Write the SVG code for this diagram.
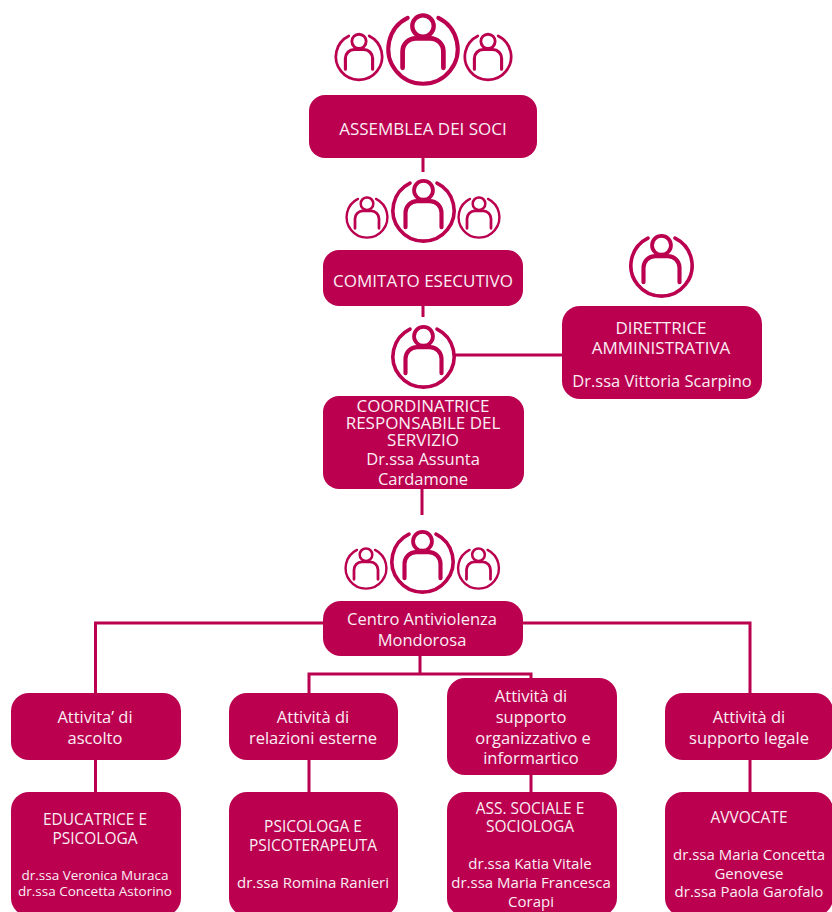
<svg xmlns="http://www.w3.org/2000/svg" xmlns:xlink="http://www.w3.org/1999/xlink" width="832" height="912" viewBox="0 0 832 912">
<style>
.b{fill:#ba004f}
text{font-family:"Open Sans","Noto Sans",sans-serif;fill:#fbeef4;text-anchor:middle;font-size:16.500px}
.u{font-size:17px}
.s{font-size:13.500px}
.n{font-size:15px}
.m{font-size:15.500px}
.c{fill:none;stroke:#ba004f;stroke-width:3}
.i{fill:none;stroke:#ba004f;stroke-linecap:round}
</style>
<defs>
<symbol id="person" overflow="visible">
<path class="i" stroke-width="4" d="M-15-31A34 34 0 1 0 15-31" stroke-linecap="butt"/>
<circle class="i" stroke-width="4.200" cx="0" cy="-23" r="10.500"/>
<path class="i" stroke-width="4.600" d="M-20 18V2A13 13 0 0 1-7-11H7A13 13 0 0 1 20 2V18"/>
</symbol>
</defs>
<g id="connectors" class="c">
<path class="c" d="M423 158V172M423 306V317M455 355H562M422 489V515M323 623H95.500V693M523 623H750V693M420 656V674M309 693V674H531V678M95.500 760V792M309 760V792M531 775V792M750 760V792"/>
</g>
<g id="icons-assemblea">
<use xlink:href="#person" transform="translate(359 57) scale(.68)"/>
<use xlink:href="#person" transform="translate(423 49.500) scale(1.02)"/>
<use xlink:href="#person" transform="translate(488 57) scale(.68)"/>
</g>
<g id="assemblea"><rect class="b" x="309" y="95" width="228" height="63" rx="16"/><text class="u" x="423" y="135">ASSEMBLEA DEI SOCI</text></g>
<g id="icons-comitato">
<use xlink:href="#person" transform="translate(367 217.500) scale(.6)"/>
<use xlink:href="#person" transform="translate(423.500 211) scale(.9)"/>
<use xlink:href="#person" transform="translate(479 217.500) scale(.6)"/>
</g>
<g id="comitato"><rect class="b" x="323" y="250" width="200" height="56" rx="16"/><text class="u" x="423" y="287">COMITATO ESECUTIVO</text></g>
<g id="icon-direttrice"><use xlink:href="#person" transform="translate(661.500 266) scale(.9)"/></g>
<g id="direttrice"><rect class="b" x="562" y="306" width="200" height="93" rx="18"/>
<text class="u" x="661" y="334">DIRETTRICE</text><text class="u" x="661" y="354">AMMINISTRATIVA</text><text x="662" y="387">Dr.ssa Vittoria Scarpino</text></g>
<g id="icon-coordinatrice"><use xlink:href="#person" transform="translate(423.500 357) scale(.9)"/></g>
<g id="coordinatrice"><rect class="b" x="323" y="396" width="201" height="93" rx="16"/>
<text class="u" x="423" y="412">COORDINATRICE</text><text class="u" x="423" y="429">RESPONSABILE DEL</text><text class="u" x="423" y="446">SERVIZIO</text><text x="423" y="465">Dr.ssa Assunta</text><text x="423" y="485">Cardamone</text></g>
<g id="icons-centro">
<use xlink:href="#person" transform="translate(366 568.500) scale(.6)"/>
<use xlink:href="#person" transform="translate(422.500 562) scale(.9)"/>
<use xlink:href="#person" transform="translate(478.500 568.500) scale(.6)"/>
</g>
<g id="centro"><rect class="b" x="323" y="601" width="200" height="55" rx="18"/><text x="422" y="625">Centro Antiviolenza</text><text x="422" y="646">Mondorosa</text></g>
<g id="att-ascolto"><rect class="b" x="11" y="693" width="170" height="67" rx="18"/><text x="95" y="723">Attivita’ di</text><text x="95" y="744">ascolto</text></g>
<g id="att-relazioni"><rect class="b" x="229" y="693" width="169" height="67" rx="18"/><text x="313" y="723">Attività di</text><text x="313" y="744">relazioni esterne</text></g>
<g id="att-supporto"><rect class="b" x="447" y="678" width="170" height="97" rx="18"/><text x="531" y="702">Attività di</text><text x="531" y="723">supporto</text><text x="533" y="744">organizzativo e</text><text x="531" y="764">informartico</text></g>
<g id="att-legale"><rect class="b" x="665" y="693" width="168" height="67" rx="18"/><text x="749" y="723">Attività di</text><text x="749" y="744">supporto legale</text></g>
<g id="educatrice"><rect class="b" x="11" y="792" width="170" height="124" rx="18"/><text class="m" x="95" y="825">EDUCATRICE E</text><text class="m" x="95" y="844">PSICOLOGA</text><text class="s" x="95" y="880">dr.ssa Veronica Muraca</text><text class="s" x="95" y="896">dr.ssa Concetta Astorino</text></g>
<g id="psicologa"><rect class="b" x="229" y="792" width="169" height="124" rx="18"/><text class="m" x="313" y="832">PSICOLOGA E</text><text class="m" x="313" y="851">PSICOTERAPEUTA</text><text class="n" x="313" y="888">dr.ssa Romina Ranieri</text></g>
<g id="assistente"><rect class="b" x="447" y="792" width="170" height="124" rx="18"/><text class="m" x="530" y="814">ASS. SOCIALE E</text><text class="m" x="530" y="832">SOCIOLOGA</text><text class="n" x="530" y="869">dr.ssa Katia Vitale</text><text class="n" x="531" y="888">dr.ssa Maria Francesca</text><text class="n" x="531" y="907">Corapi</text></g>
<g id="avvocate"><rect class="b" x="665" y="792" width="168" height="124" rx="18"/><text class="m" x="749" y="823">AVVOCATE</text><text class="n" x="749" y="860">dr.ssa Maria Concetta</text><text class="n" x="749" y="879">Genovese</text><text class="n" x="749" y="897">dr.ssa Paola Garofalo</text></g>
</svg>
